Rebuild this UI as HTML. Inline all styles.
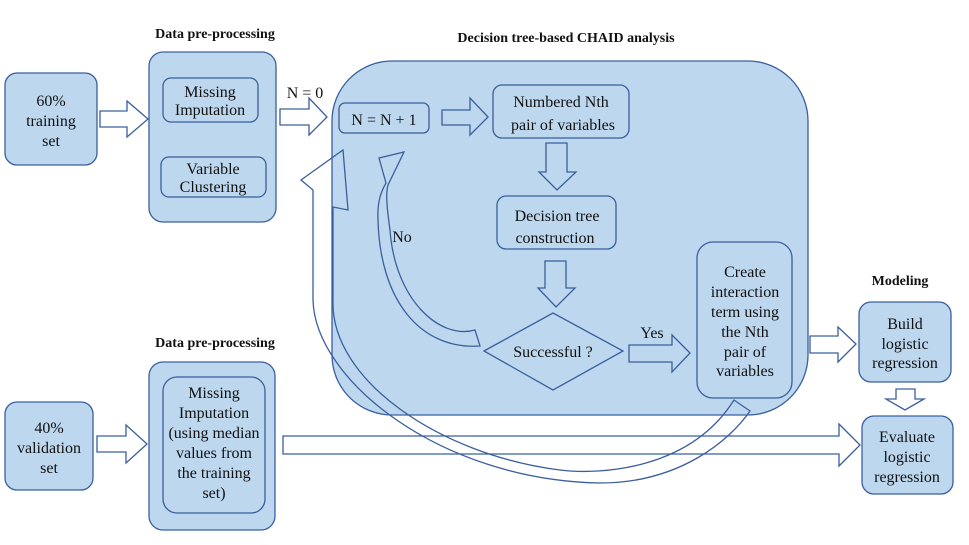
<!DOCTYPE html>
<html><head><style>
body{margin:0;background:#fff;}
svg{display:block;}
text{font-family:"Liberation Serif",serif;font-size:16px;fill:#111;}
.b{font-weight:bold;font-size:14px;}
</style></head><body>
<svg width="969" height="545" viewBox="0 0 969 545" xmlns="http://www.w3.org/2000/svg">
<g stroke="#3a5f9e" stroke-width="1.3" fill="#bdd7ee">
<rect x="332" y="61" width="476" height="354" rx="60"/>
<rect x="5" y="73" width="92" height="92" rx="12"/>
<rect x="149" y="52" width="127" height="170" rx="14"/>
<rect x="163" y="78" width="95" height="44" rx="8"/>
<rect x="161" y="157" width="105" height="40" rx="8"/>
<rect x="5" y="402" width="88" height="88" rx="12"/>
<rect x="149" y="362" width="126" height="168" rx="14"/>
<rect x="163" y="377" width="102" height="136" rx="14"/>
<rect x="339" y="103" width="90" height="30" rx="6"/>
<rect x="493" y="85" width="136" height="53" rx="9"/>
<rect x="497" y="196" width="119" height="53" rx="9"/>
<polygon points="484,351 553,313 623,351 553,390"/>
<rect x="697" y="242" width="95" height="156" rx="16"/>
<rect x="859" y="302" width="92" height="80" rx="12"/>
<rect x="862" y="416" width="91" height="78" rx="12"/>
</g>
<g stroke="#3a5f9e" stroke-width="1.3" fill="#fff">
<polygon points="100,111 127,111 127,101 148,119 127,137 127,127 100,127"/>
<polygon points="280,109 309,109 309,98 327,117 309,135 309,125 280,125"/>
<polygon points="810,336 838,336 838,327 856,344 838,362 838,353 810,353"/>
<polygon points="97,436 126,436 126,425 147,444 126,463 126,452 97,452"/>
<polygon points="283,436 839,436 839,424 860,445 839,466 839,454 283,454"/>
</g>
<g stroke="#3a5f9e" stroke-width="1.3" fill="#bdd7ee">
<polygon points="442,110 470,110 470,98 488,117 470,135 470,125 442,125"/>
<polygon points="546,143 567,143 567,172 576,172 557,190 539,172 546,172"/>
<polygon points="545,261 566,261 566,288 575,288 556,307 538,288 545,288"/>
<polygon points="629,345 672,345 672,335 690,353 672,372 672,362 629,362"/>
</g>
<polygon points="896,389 915,389 915,399 924,399 905,410 886,399 896,399" fill="#fff" stroke="#3a5f9e" stroke-width="1.3"/>
<g stroke="#3a5f9e" stroke-width="1.3" fill="none">
<path d="M480,346 C420,350 380,300 378,220 C377,200 382,190 386,183 L379,158 L404,152 L388,185 C385,195 388,215 390,230 C395,300 440,340 475,330 Z" fill="#bdd7ee"/>
<path d="M734,400 C690,470 600,475 560,470 C440,455 330,380 333,300 L333,207 L348,210 L343,150 L301,180 L313,190 L313,300 C315,380 440,480 600,483 C680,483 730,440 750,411 Z"/>
</g>
<g text-anchor="middle">
<text class="b" x="215" y="38">Data pre-processing</text>
<text class="b" x="566" y="42">Decision tree-based CHAID analysis</text>
<text class="b" x="215" y="347">Data pre-processing</text>
<text class="b" x="900" y="285">Modeling</text>
<text x="51" y="106">60%</text><text x="51" y="126">training</text><text x="51" y="146">set</text>
<text x="210" y="97">Missing</text><text x="210" y="115">Imputation</text>
<text x="213" y="174">Variable</text><text x="213" y="192">Clustering</text>
<text x="49" y="433">40%</text><text x="49" y="453">validation</text><text x="49" y="473">set</text>
<text x="214" y="398">Missing</text><text x="214" y="418">Imputation</text><text x="214" y="438">(using median</text><text x="214" y="458">values from</text><text x="214" y="478">the training</text><text x="214" y="498">set)</text>
<text x="305" y="98">N = 0</text>
<text x="384" y="125">N = N + 1</text>
<text x="561" y="107">Numbered Nth</text><text x="563" y="130">pair of variables</text>
<text x="557" y="221">Decision tree</text><text x="555" y="243">construction</text>
<text x="553" y="357">Successful ?</text>
<text x="652" y="338">Yes</text>
<text x="402" y="242">No</text>
<text x="745" y="277">Create</text><text x="745" y="297">interaction</text><text x="745" y="317">term using</text><text x="745" y="337">the Nth</text><text x="745" y="357">pair of</text><text x="745" y="376">variables</text>
<text x="905" y="329">Build</text><text x="905" y="349">logistic</text><text x="905" y="368">regression</text>
<text x="907" y="442">Evaluate</text><text x="907" y="462">logistic</text><text x="907" y="482">regression</text>
</g>
</svg>
</body></html>
